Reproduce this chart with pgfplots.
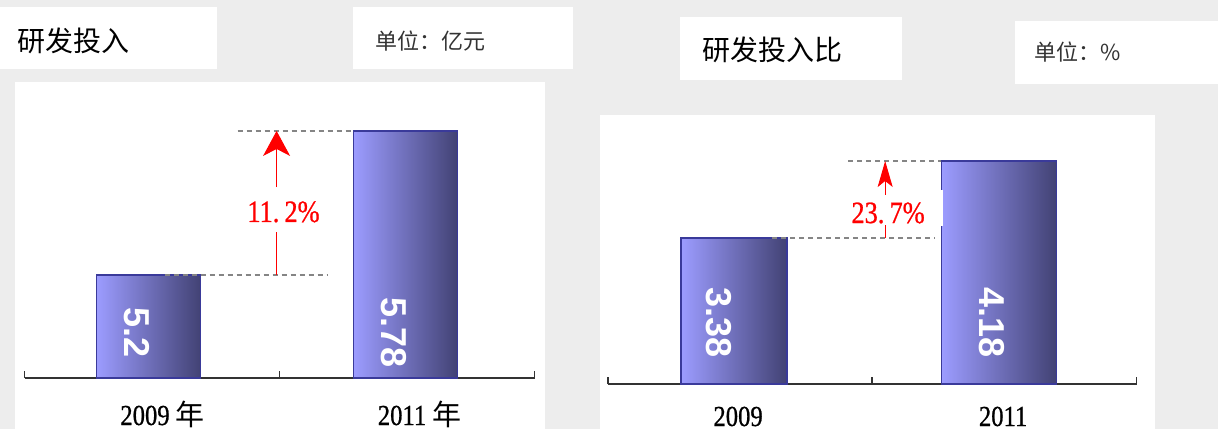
\documentclass[border=0pt]{standalone}
\usepackage{fontspec}
\setmainfont{Liberation Serif}
\newfontfamily\cjk{Noto Sans CJK SC}
\newfontfamily\narrowserif[FakeStretch=0.85,FakeBold=0.8]{Liberation Serif}
\newfontfamily\barfont{Liberation Sans}
\usepackage{pgfplots}
\pgfplotsset{compat=1.18}
\usetikzlibrary{arrows.meta}
\definecolor{bgray}{HTML}{EDEDED}
\definecolor{barL}{HTML}{9C9CFF}
\definecolor{barR}{HTML}{424274}
\definecolor{barEdge}{HTML}{3A3A9A}
\definecolor{dashgray}{HTML}{858585}
\definecolor{axisgray}{HTML}{333333}
\definecolor{unitgray}{HTML}{333333}

\tikzset{
  dashline/.style={dashgray, line width=0.6pt, dash pattern=on 2.5pt off 2pt},
  barval/.style={rotate=-90, text=white, font=\barfont\bfseries\fontsize{18}{18}\selectfont},
  pct/.style={text=red, font=\narrowserif\fontsize{15.5}{15.5}\selectfont, inner sep=0pt},
}
\pgfplotsset{
  panel/.style={
    axis x line=bottom, axis y line=none,
    axis line style={-, axisgray, line width=0.8pt},
    xtick={0,1}, major tick length=0pt,
    ytick=\empty,
    clip=true,
    xticklabel style={font=\narrowserif\fontsize{14.5}{15}\selectfont, anchor=base, text=black},
    extra x tick labels={},
    extra x tick style={major tick length=3.5pt, tick align=inside, tick style={axisgray, line width=0.8pt}},
  },
  shadedbar/.style={ybar, bar shift=0pt, draw=barEdge, line width=0.8pt, left color=barL, right color=barR},
}

\begin{document}
\begin{tikzpicture}
\begin{scope}[x=0.5pt,y=-0.5pt]
  \useasboundingbox (0,0) rectangle (1218,429);
  \clip (0,0) rectangle (1218,429);
  \fill[bgray] (0,0) rectangle (1218,429);
  \fill[white] (0,7) rectangle (217,69);
  \fill[white] (353,7) rectangle (573,69);
  \fill[white] (15,82) rectangle (545,429);
  \fill[white] (680,17) rectangle (902,80);
  \fill[white] (1015,21) rectangle (1218,84);
  \fill[white] (600,115) rectangle (1155,429);
  \node[anchor=west, inner sep=0pt, font=\cjk\fontsize{14}{14}\selectfont] at (17,41) {研发投入};
  \node[anchor=west, inner sep=0pt, font=\cjk\fontsize{11}{11}\selectfont, text=unitgray] at (375,41) {单位：亿元};
  \node[anchor=west, inner sep=0pt, font=\cjk\fontsize{14}{14}\selectfont] at (702,50) {研发投入比};
  \node[anchor=west, inner sep=0pt, font=\cjk\fontsize{11}{11}\selectfont, text=unitgray] at (1034,52) {单位：\%};
\end{scope}

% Left panel: R&D investment (100 million yuan)
\begin{axis}[panel,
  at={(12.3pt,-189pt)}, anchor=south west,
  x=128.5pt, y=124.15pt,
  xmin=-0.4825, xmax=1.502, ymin=4.785, ymax=5.973,
  xticklabels={{2009 {\cjk 年}},{2011 {\cjk 年}}},
  xticklabel style={yshift=-23.5pt, xshift=7pt},
  extra x ticks={-0.4825,0.51,1.502},
]
\addplot[shadedbar, bar width=0.405] coordinates {(0,5.2)};
\addplot[shadedbar, bar width=0.405] coordinates {(1,5.78)};
\draw[dashline] (axis cs:0.062,5.2) -- (axis cs:0.696,5.2);
\draw[dashline] (axis cs:0.346,5.78) -- (axis cs:0.80,5.78);
\draw[red, line width=0.5pt] (axis cs:0.498,5.2) -- (axis cs:0.498,5.373);
\draw[red, line width=0.5pt, -{Stealth[length=12.5pt,width=13.5pt,inset=3.5pt]}] (axis cs:0.498,5.554) -- (axis cs:0.498,5.78);
\node[pct] at (axis cs:0.525,5.454) {11.\,2\%};
\node[barval] at (axis cs:-0.047,4.970) {5.2};
\node[barval] at (axis cs:0.953,4.970) {5.78};
\end{axis}

% Right panel: R&D intensity (%)
\begin{axis}[panel,
  at={(303.85pt,-192pt)}, anchor=south west,
  x=132.5pt, y=48.125pt,
  xmin=-0.477, xmax=1.519, ymin=1.863, ymax=4.658,
  xticklabels={2009,2011},
  xticklabel style={yshift=-21pt, xshift=2pt},
  extra x ticks={-0.477,0.521,1.519},
]
\addplot[shadedbar, bar width=0.40] coordinates {(0,3.38)};
\addplot[shadedbar, bar width=0.434] coordinates {(1,4.18)};
\draw[dashline] (axis cs:0.143,3.38) -- (axis cs:0.758,3.38);
\draw[dashline] (axis cs:0.430,4.18) -- (axis cs:0.78,4.18);
\fill[white] (axis cs:0.776,3.505) rectangle (axis cs:0.79,3.879);
\draw[red, line width=0.5pt] (axis cs:0.570,3.38) -- (axis cs:0.570,3.515);
\draw[red, line width=0.5pt, -{Stealth[length=13pt,width=7.5pt,inset=3pt]}] (axis cs:0.570,3.827) -- (axis cs:0.570,4.18);
\node[pct] at (axis cs:0.581,3.64) {23.\,7\%};
\node[barval] at (axis cs:-0.057,2.497) {3.38};
\node[barval] at (axis cs:0.974,2.497) {4.18};
\end{axis}
\end{tikzpicture}
\end{document}
